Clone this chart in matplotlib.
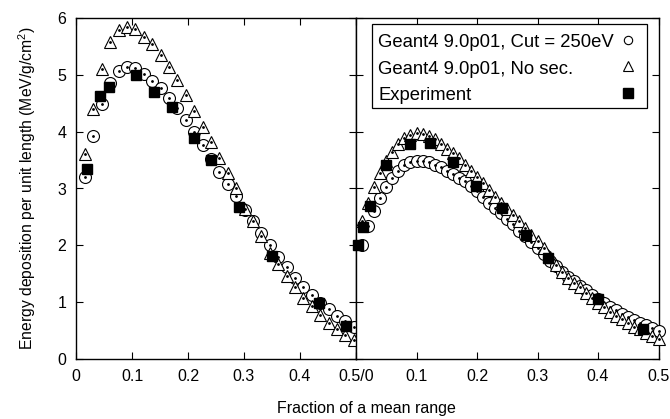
import matplotlib
matplotlib.use("Agg")
import matplotlib.pyplot as plt
from matplotlib.lines import Line2D
from matplotlib.patches import Rectangle

plt.rcParams['font.family'] = ['Liberation Sans', 'DejaVu Sans']
plt.rcParams['mathtext.fontset'] = 'custom'
plt.rcParams['mathtext.rm'] = 'Liberation Sans'

# ---------------- left panel ----------------
left_sim_x = [0.016, 0.031, 0.046, 0.061, 0.076, 0.091, 0.106, 0.121, 0.136, 0.151,
              0.166, 0.181, 0.196, 0.211, 0.226, 0.241, 0.256, 0.271, 0.286, 0.301,
              0.316, 0.331, 0.346, 0.361, 0.376, 0.391, 0.406, 0.421, 0.436, 0.451,
              0.466, 0.481, 0.496]
left_cut = [3.20, 3.92, 4.49, 4.85, 5.07, 5.13, 5.12, 5.02, 4.90, 4.76,
            4.60, 4.41, 4.21, 4.00, 3.76, 3.52, 3.29, 3.08, 2.87, 2.62,
            2.43, 2.22, 2.00, 1.80, 1.62, 1.43, 1.27, 1.12, 0.99, 0.88,
            0.76, 0.67, 0.56]
left_nosec = [3.61, 4.40, 5.10, 5.57, 5.79, 5.85, 5.80, 5.67, 5.54, 5.35,
              5.13, 4.91, 4.65, 4.37, 4.09, 3.81, 3.54, 3.27, 3.00, 2.64,
              2.43, 2.16, 1.87, 1.67, 1.46, 1.27, 1.08, 0.94, 0.77, 0.64,
              0.53, 0.43, 0.34]
left_exp_x = [0.019, 0.043, 0.059, 0.1065, 0.139, 0.171, 0.211, 0.241, 0.291, 0.350, 0.434, 0.482]
left_exp = [3.35, 4.63, 4.78, 4.99, 4.69, 4.44, 3.89, 3.50, 2.67, 1.81, 0.98, 0.58]

# ---------------- right panel ----------------
right_sim_x = [0.01, 0.02, 0.03, 0.04, 0.05, 0.06, 0.07, 0.08, 0.09, 0.10,
               0.11, 0.12, 0.13, 0.14, 0.15, 0.16, 0.17, 0.18, 0.19, 0.20,
               0.21, 0.22, 0.23, 0.24, 0.25, 0.26, 0.27, 0.28, 0.29, 0.30,
               0.31, 0.32, 0.33, 0.34, 0.35, 0.36, 0.37, 0.38, 0.39, 0.40,
               0.41, 0.42, 0.43, 0.44, 0.45, 0.46, 0.47, 0.48, 0.49, 0.50]
right_cut = [2.00, 2.34, 2.60, 2.84, 3.03, 3.19, 3.31, 3.41, 3.46, 3.48,
             3.48, 3.46, 3.42, 3.37, 3.31, 3.26, 3.19, 3.13, 3.04, 2.95,
             2.85, 2.75, 2.66, 2.57, 2.46, 2.37, 2.26, 2.16, 2.05, 1.95,
             1.84, 1.73, 1.63, 1.53, 1.45, 1.37, 1.29, 1.21, 1.13, 1.05,
             0.99, 0.92, 0.86, 0.80, 0.74, 0.69, 0.64, 0.59, 0.54, 0.50]
right_nosec = [2.43, 2.75, 3.03, 3.27, 3.48, 3.65, 3.79, 3.89, 3.95, 3.97,
               3.96, 3.93, 3.87, 3.78, 3.70, 3.62, 3.53, 3.41, 3.31, 3.20,
               3.10, 2.97, 2.85, 2.75, 2.64, 2.54, 2.42, 2.30, 2.18, 2.07,
               1.96, 1.80, 1.66, 1.53, 1.43, 1.34, 1.26, 1.16, 1.08, 0.98,
               0.91, 0.83, 0.76, 0.70, 0.63, 0.57, 0.52, 0.46, 0.41, 0.36]
right_exp_x = [0.004, 0.012, 0.023, 0.050, 0.089, 0.122, 0.160, 0.198, 0.241, 0.281, 0.317, 0.400, 0.475]
right_exp = [2.00, 2.33, 2.69, 3.41, 3.78, 3.80, 3.46, 3.05, 2.65, 2.19, 1.77, 1.05, 0.53]

left_ticks = [0, 0.1, 0.2, 0.3, 0.4, 0.5]
left_ticklabels = ['0', '0.1', '0.2', '0.3', '0.4', '0.5/0']
right_ticks = [0, 0.1, 0.2, 0.3, 0.4, 0.5]
right_ticklabels = ['', '0.1', '0.2', '0.3', '0.4', '0.5']
y_ticks = [0, 1, 2, 3, 4, 5, 6]

labels = ['Geant4 9.0p01, Cut = 250eV', 'Geant4 9.0p01, No sec.', 'Experiment']

FS = 11.5
fig = plt.figure(figsize=(6.7, 4.19), dpi=100)
W, H = 670.0, 419.0
ax1 = fig.add_axes([76 / W, (H - 359) / H, 280 / W, 341 / H])
ax2 = fig.add_axes([356 / W, (H - 359) / H, 302.5 / W, 341 / H])

mk = dict(linestyle='none', markerfacecolor='white', markeredgecolor='black',
          markeredgewidth=0.8, clip_on=False)


def draw(ax, xs, cut, nosec, ex, ey):
    ax.plot(xs, cut, marker='o', markersize=8.6, zorder=3, **mk)
    ax.plot(xs, cut, marker='o', markersize=1.0, linestyle='none', color='black', zorder=3, clip_on=False)
    ax.plot(xs, nosec, marker='^', markersize=8.2, zorder=4, **mk)
    ax.plot(xs, nosec, marker='o', markersize=1.0, linestyle='none', color='black', zorder=4, clip_on=False)
    ax.plot(ex, ey, marker='s', markersize=7.8, linestyle='none', color='black', zorder=5, clip_on=False)
    ax.set_xlim(0, 0.5)
    ax.set_ylim(0, 6)
    ax.tick_params(direction='in', length=5, width=0.8, top=True, right=True,
                   labelsize=FS, pad=7)
    for s in ax.spines.values():
        s.set_linewidth(1.0)


draw(ax1, left_sim_x, left_cut, left_nosec, left_exp_x, left_exp)
draw(ax2, right_sim_x, right_cut, right_nosec, right_exp_x, right_exp)

ax1.set_xticks(left_ticks)
ax1.set_xticklabels(left_ticklabels)
ax1.set_yticks(y_ticks)
ax2.set_xticks(right_ticks)
ax2.set_xticklabels(right_ticklabels)
ax2.set_yticks(y_ticks)
ax2.tick_params(labelleft=False)

ax1.set_ylabel('Energy deposition per unit length (MeV/g/cm$^2$)', fontsize=11.3, labelpad=14)
fig.text(366 / W, 1 - 408 / H, 'Fraction of a mean range', ha='center', va='center', fontsize=FS)

# ---- legend box (text left-aligned, symbols in a right-hand column) ----
box = Rectangle((372 / W, 1 - 108 / H), 275 / W, 84 / H, transform=fig.transFigure,
                facecolor='white', edgecolor='black', linewidth=0.9, zorder=10)
fig.add_artist(box)
row_base = [47, 73.5, 100]
row_mid = [40, 66.5, 93.5]
handle_styles = [
    dict(marker='o', markersize=6.0, markerfacecolor='white', markeredgecolor='black', markeredgewidth=0.8),
    dict(marker='^', markersize=6.5, markerfacecolor='white', markeredgecolor='black', markeredgewidth=0.8),
    dict(marker='s', markersize=7.2, color='black'),
]
for lab, yb, ym, st in zip(labels, row_base, row_mid, handle_styles):
    fig.text(378 / W, 1 - yb / H, lab, ha='left', va='baseline', fontsize=13.3, zorder=11)
    fig.add_artist(Line2D([628 / W], [1 - ym / H], linestyle='none',
                          transform=fig.transFigure, zorder=11, **st))

fig.savefig('out.png', dpi=100)
